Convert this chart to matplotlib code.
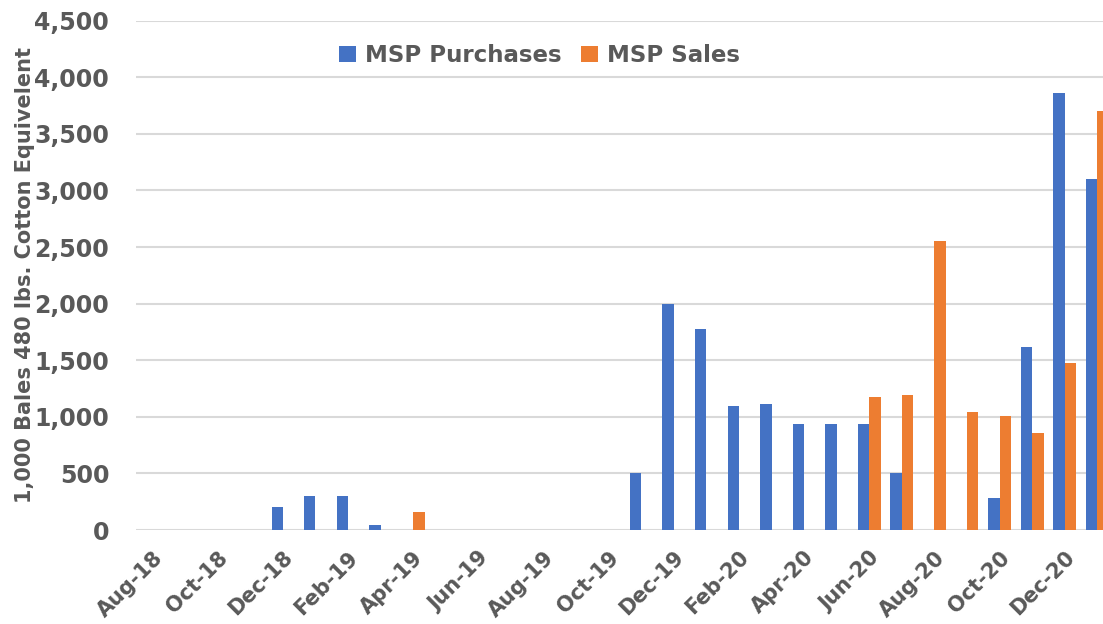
import matplotlib
matplotlib.use("Agg")
import matplotlib.pyplot as plt
from matplotlib.ticker import FuncFormatter
import numpy as np

# Monthly MSP purchases / sales, Aug-18 .. Jan-21
months = ["Aug-18", "Sep-18", "Oct-18", "Nov-18", "Dec-18", "Jan-19", "Feb-19", "Mar-19",
          "Apr-19", "May-19", "Jun-19", "Jul-19", "Aug-19", "Sep-19", "Oct-19", "Nov-19",
          "Dec-19", "Jan-20", "Feb-20", "Mar-20", "Apr-20", "May-20", "Jun-20", "Jul-20",
          "Aug-20", "Sep-20", "Oct-20", "Nov-20", "Dec-20", "Jan-21"]
purchases = [0, 0, 0, 0, 200, 300, 300, 45,
             0, 0, 0, 0, 0, 0, 0, 500,
             2000, 1775, 1100, 1110, 940, 940, 940, 500,
             0, 0, 285, 1620, 3860, 3100]
sales = [0, 0, 0, 0, 0, 0, 0, 0,
         155, 0, 0, 0, 0, 0, 0, 0,
         0, 0, 0, 0, 0, 0, 1175, 1195,
         2550, 1045, 1005, 855, 1475, 3700]
y_ticks = [0, 500, 1000, 1500, 2000, 2500, 3000, 3500, 4000, 4500]

BLUE = "#4472C4"
ORANGE = "#ED7D31"
TEXT = "#595959"
GRID = "#D9D9D9"
W = 0.35  # width of each bar, in category units

plt.rcParams["font.family"] = ["DejaVu Sans"]
plt.rcParams["font.weight"] = "bold"

fig = plt.figure(figsize=(11.03, 6.24), dpi=100)
# right edge runs past the figure: the last orange bar is clipped as in the source
ax = fig.add_axes([0.1236, 0.1506, 0.886, 0.8162])

x = np.arange(len(months))
ax.bar(x - W / 2, purchases, width=W, color=BLUE, label="MSP Purchases", zorder=3)
ax.bar(x + W / 2, sales, width=W, color=ORANGE, label="MSP Sales", zorder=3)

ax.set_xlim(-0.5, len(months) - 0.5)
ax.set_ylim(0, 4500)
ax.set_yticks(y_ticks)
ax.yaxis.set_major_formatter(FuncFormatter(lambda v, p: f"{int(v):,}"))
ax.grid(axis="y", color=GRID, linewidth=1.5, zorder=0)

ax.set_xticks(x[::2])
ax.set_xticklabels(months[::2], rotation=45, ha="right", va="top", rotation_mode="anchor")

for s in ax.spines.values():
    s.set_visible(False)
ax.tick_params(axis="both", length=0, colors=TEXT)
ax.tick_params(axis="y", pad=19.5, labelsize=17)
ax.tick_params(axis="x", pad=12.5, labelsize=15)
for lbl in ax.get_xticklabels() + ax.get_yticklabels():
    lbl.set_fontweight("bold")

ax.set_ylabel("1,000 Bales 480 lbs. Cotton Equivelent", color=TEXT, fontsize=15,
              fontweight="bold")
ax.yaxis.set_label_coords(-0.1037, 0.5)

fig.legend(loc="center", bbox_to_anchor=(0.489, 0.911), ncol=2, frameon=False,
           handlelength=0.74, handleheight=0.74, handletextpad=0.41,
           columnspacing=0.84, labelcolor=TEXT, prop={"weight": "bold", "size": 16.5})

fig.savefig("out.png", dpi=100)
